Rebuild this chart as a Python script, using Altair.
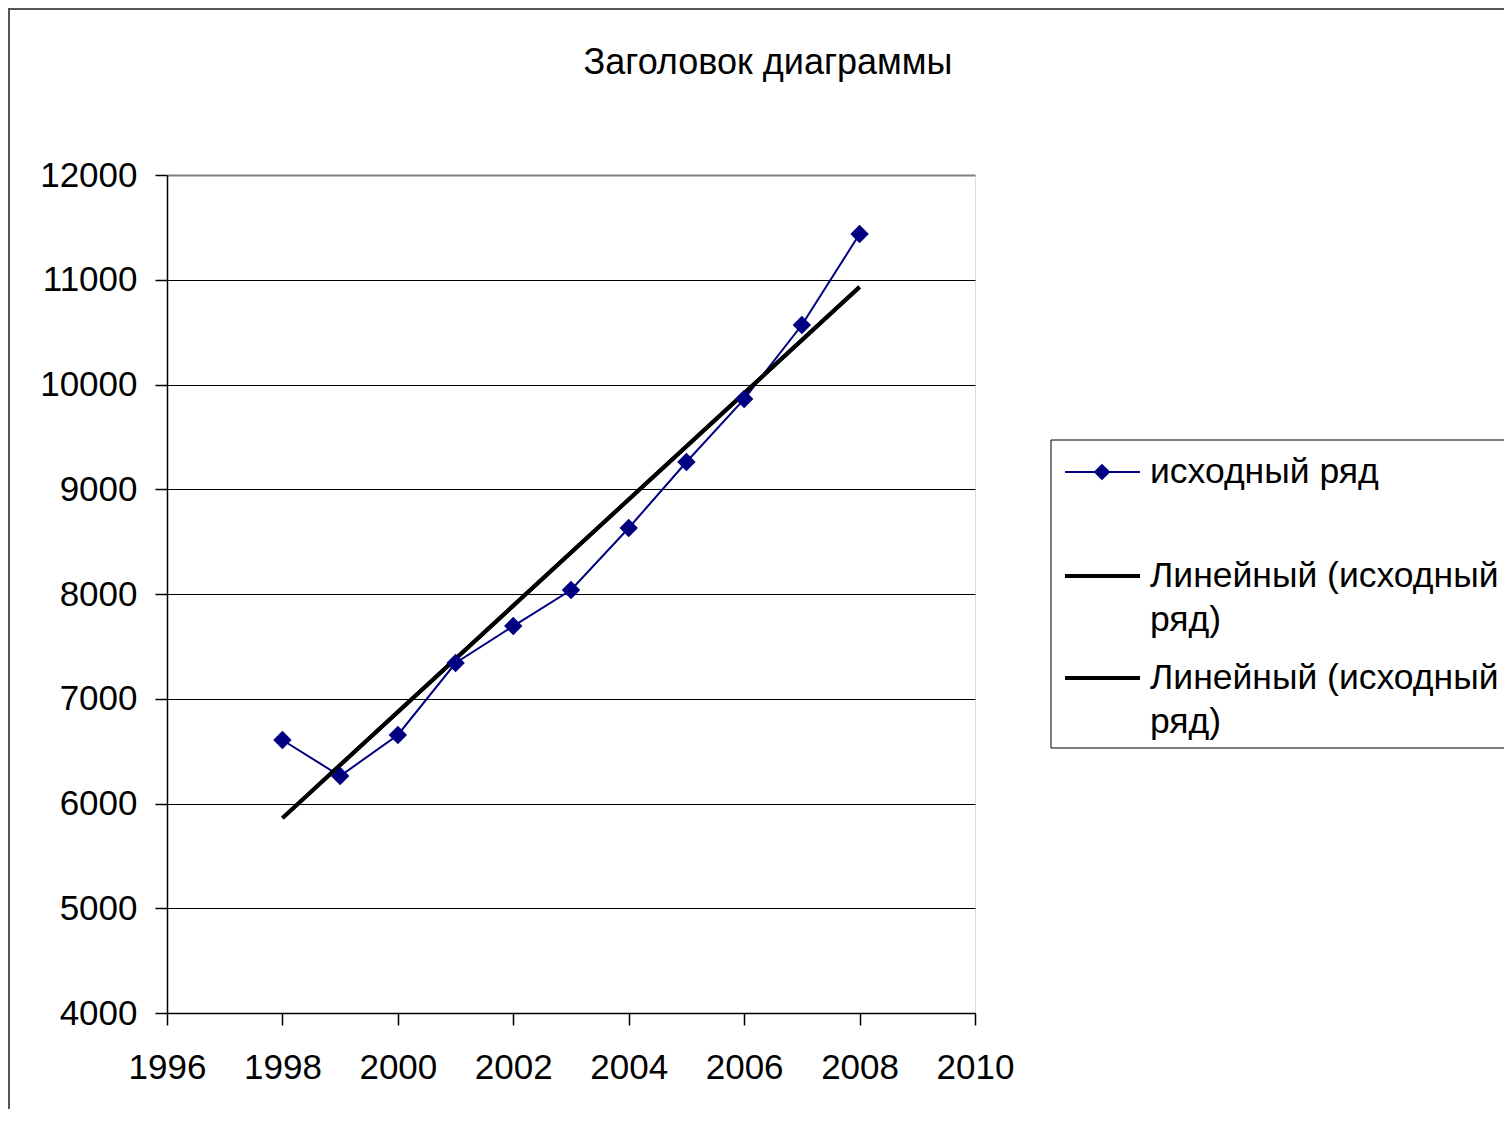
import altair as alt
import pandas as pd

years = [1998, 1999, 2000, 2001, 2002, 2003, 2004, 2005, 2006, 2007, 2008]
values = [6606, 6262, 6654, 7341, 7694, 8038, 8630, 9260, 9861, 10568, 11436]
x_ticks = [1996, 1998, 2000, 2002, 2004, 2006, 2008, 2010]
y_ticks = [4000, 5000, 6000, 7000, 8000, 9000, 10000, 11000, 12000]
title_text = "Заголовок диаграммы"
series_name = "исходный ряд"
trend_label_1 = "Линейный (исходный"
trend_label_2 = "ряд)"

df = pd.DataFrame({"year": years, "value": values})
FONT = "Liberation Sans"
NAVY = "#000080"

def x_enc():
    return alt.X(
        "year:Q",
        scale=alt.Scale(domain=[1996, 2010], nice=False, zero=False),
        axis=alt.Axis(values=x_ticks, format="d", title=None, grid=False,
                      labelFont=FONT, labelFontSize=35, labelColor="black",
                      tickColor="black", tickSize=12, tickWidth=1.5,
                      domainColor="black", domainWidth=1.5,
                      labelPadding=25, labelFlush=False),
    )

def y_enc():
    return alt.Y(
        "value:Q",
        scale=alt.Scale(domain=[4000, 12000], nice=False, zero=False),
        axis=alt.Axis(values=y_ticks, format="d", title=None, grid=True,
                      gridColor=alt.condition("datum.value == 12000", alt.value("#808080"), alt.value("black")),
                      gridWidth=alt.condition("datum.value == 12000", alt.value(2), alt.value(1)),
                      labelFont=FONT, labelFontSize=35, labelColor="black",
                      tickColor="black", tickSize=12, tickWidth=1.5,
                      domainColor="black", domainWidth=1.5,
                      labelPadding=18),
    )

base = alt.Chart(df)
deco = alt.Chart(alt.Data(values=[{"k": 1}]))

outer = deco.mark_rect(fill="transparent", stroke="#555555", strokeWidth=2).encode(
    x=alt.value(-158), x2=alt.value(1600), y=alt.value(-166), y2=alt.value(1200))

series_line = base.mark_line(color=NAVY, strokeWidth=2).encode(x=x_enc(), y=y_enc())
trend1 = base.transform_regression("year", "value").mark_line(color="black", strokeWidth=4).encode(x=x_enc(), y=y_enc())
trend2 = base.transform_regression("year", "value").mark_line(color="black", strokeWidth=4).encode(x=x_enc(), y=y_enc())
points = base.mark_point(shape="diamond", filled=True, size=340, color=NAVY, opacity=1).encode(x=x_enc(), y=y_enc())

title = deco.mark_text(text=title_text, align="center", baseline="middle", font=FONT,
                       fontSize=36, color="black").encode(x=alt.value(601), y=alt.value(-112))

leg_box = deco.mark_rect(fill="white", stroke="black", strokeWidth=1).encode(
    x=alt.value(884), x2=alt.value(1400), y=alt.value(265), y2=alt.value(573))
leg_l1 = deco.mark_rule(color=NAVY, strokeWidth=2).encode(x=alt.value(898), x2=alt.value(973), y=alt.value(297))
leg_p1 = deco.mark_point(shape="diamond", filled=True, size=280, color=NAVY, opacity=1).encode(
    x=alt.value(935), y=alt.value(297))
leg_l2 = deco.mark_rule(color="black", strokeWidth=4).encode(x=alt.value(898), x2=alt.value(973), y=alt.value(401))
leg_l3 = deco.mark_rule(color="black", strokeWidth=4).encode(x=alt.value(898), x2=alt.value(973), y=alt.value(503))

def leg_text(t, y):
    return deco.mark_text(text=t, align="left", baseline="middle", font=FONT, fontSize=35.5,
                          color="black").encode(x=alt.value(983), y=alt.value(y))

chart = alt.layer(
    outer, series_line, trend1, trend2, points, title,
    leg_box, leg_l1, leg_p1, leg_l2, leg_l3,
    leg_text(series_name, 297),
    leg_text(trend_label_1, 401), leg_text(trend_label_2, 445),
    leg_text(trend_label_1, 503), leg_text(trend_label_2, 547),
).properties(
    width=808, height=838,
    padding={"left": 159, "top": 167, "right": 529, "bottom": 96},
    autosize=alt.AutoSizeParams(type="none"),
).configure_view(stroke="#808080", strokeWidth=2).configure(background="white")

chart.save("out.html", embed_options={"renderer": "svg", "actions": False})
